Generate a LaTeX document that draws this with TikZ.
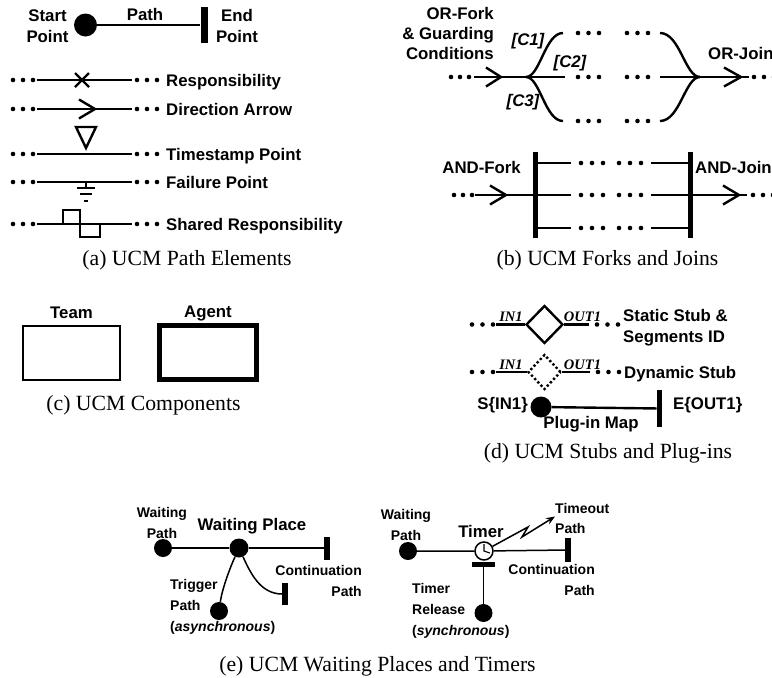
\documentclass[tikz,border=0pt]{standalone}
\usepackage{fontspec}
\setmainfont{Liberation Serif}
\setsansfont{Liberation Sans}
\usetikzlibrary{arrows.meta, positioning, shapes.geometric}
% three path dots from x on row y, spacing s
\newcommand{\tdots}[3]{%
  \foreach \k in {0,1,2}{\fill ({#1+\k*#3},#2) circle (2.3);}}
% open direction chevron, tip at (x,y), depth d
\newcommand{\chev}[3]{%
  \draw[pth] ({#1-#3},{#2-9.5}) -- (#1,#2) -- ({#1-#3},{#2+9.5});}

\begin{document}
\begin{tikzpicture}[x=1pt, y=-1pt, every node/.style={inner sep=0pt},
  lbl/.style={font=\sffamily\bfseries\fontsize{16.8}{21}\selectfont, align=center},
  slbl/.style={font=\sffamily\bfseries\fontsize{14}{21}\selectfont},
  cnd/.style={font=\sffamily\bfseries\itshape\fontsize{16.8}{21}\selectfont},
  capt/.style={font=\fontsize{21.7}{24}\selectfont, anchor=base},
  segid/.style={font=\bfseries\itshape\fontsize{14.5}{16}\selectfont, anchor=base},
  pth/.style={line width=2.4pt}, tpth/.style={line width=1.5pt},
  spt/.style={circle, fill, minimum size=18pt},
  bar/.style={fill, minimum width=5.5pt}]
\useasboundingbox (0,0) rectangle (772,678);
% (a) path elements
\node[spt, minimum size=23pt] (start) at (85.5,25) {};
\node[bar, minimum width=7pt, minimum height=36pt] (endbar) at (204,25) {};
\draw[pth] (start) -- (endbar);
\node[lbl] (startlbl) at (47.5,26) {Start\\Point};
\node[lbl] (pathlbl) at (145,14) {Path};
\node[lbl] (endlbl) at (237,26) {End\\Point};
\foreach \y/\t [count=\n] in {80/Responsibility, 109/Direction Arrow,
    154/Timestamp Point, 182/Failure Point, 224/Shared Responsibility}{
  \tdots{13}{\y}{10}
  \coordinate (pa\n) at (37,\y);
  \coordinate (pb\n) at (132,\y);
  \draw[pth] (pa\n) -- (pb\n);
  \tdots{137}{\y}{10}
  \node[lbl, anchor=base west] (pl\n) at (166,\y+6) {\t};
}
\draw[pth] (75,73) -- (89,87) (75,87) -- (89,73);
\chev{95}{109}{16}
\draw[pth] (76,127) -- (96,127) -- (86,148) -- cycle;
\draw[pth] (86,182) -- (86,188) (77,188) -- (95,188) (80,194) -- (92,194) (84,201) -- (88,201);
\draw[pth] (63,224) -- (63,210) -- (80,210) -- (80,237) -- (100,237) -- (100,224);
\node[capt] (capa) at (187,265.5) {(a) UCM Path Elements};
% (b) OR fork / join
\node[lbl, align=right, anchor=east, font=\sffamily\bfseries\fontsize{16.8}{20}\selectfont] (orlbl) at (494,33) {OR-Fork\\\& Guarding\\Conditions};
\tdots{451}{77}{9}
\coordinate (orin) at (474,77);
\coordinate (ork) at (526,77);
\draw[pth] (orin) -- (ork);
\chev{501}{77}{15}
\coordinate (or1) at (563,33);
\coordinate (or2) at (565,77);
\coordinate (or3) at (563,121);
\draw[pth] (ork) .. controls (540,77) and (545,33) .. (or1);
\draw[pth] (ork) -- (or2);
\draw[pth] (ork) .. controls (540,77) and (545,121) .. (or3);
\foreach \y in {33,77,121}{\tdots{578}{\y}{10.5} \tdots{627}{\y}{10.5}}
\coordinate (oj1) at (660,33);
\coordinate (oj2) at (660,77);
\coordinate (oj3) at (660,121);
\coordinate (orj) at (700,77);
\coordinate (orout) at (749,77);
\draw[pth] (oj1) .. controls (680,33) and (685,77) .. (orj);
\draw[pth] (oj2) -- (orj);
\draw[pth] (oj3) .. controls (680,121) and (685,77) .. (orj);
\draw[pth] (orj) -- (orout);
\chev{741}{77}{17}
\tdots{754}{77}{10}
\node[cnd] (c1) at (528,41) {[C1]};
\node[cnd] (c2) at (570,63) {[C2]};
\node[cnd] (c3) at (523,102) {[C3]};
\node[lbl, anchor=base west] (orjlbl) at (708,59) {OR-Join};
% (b) AND fork / join
\node[lbl, anchor=base east] (afklbl) at (521,173) {AND-Fork};
\node[bar, minimum height=86pt] (afk) at (535.5,195) {};
\node[bar, minimum height=86pt] (ajn) at (690.5,195) {};
\tdots{454}{195}{9}
\coordinate (ain) at (475,195);
\draw[pth] (ain) -- (afk);
\chev{506}{195}{16}
\foreach \y [count=\n] in {163,195,228}{
  \coordinate (ab\n) at (571,\y);
  \coordinate (ac\n) at (651,\y);
  \draw[pth] (afk.center |- ab\n) -- (ab\n);
  \tdots{581}{\y}{11}
  \tdots{619}{\y}{11}
  \draw[pth] (ac\n) -- (ajn.center |- ac\n);
}
\coordinate (aout) at (747,195);
\draw[pth] (ajn) -- (aout);
\chev{739}{195}{16}
\tdots{753}{195}{10}
\node[lbl, anchor=base west] (ajnlbl) at (695,173) {AND-Join};
\node[capt] (capb) at (607.5,265.5) {(b) UCM Forks and Joins};
% (c) components
\node[draw, line width=2pt, minimum width=97pt, minimum height=54pt] (team) at (71.5,353) {};
\node[draw, line width=5pt, minimum width=97pt, minimum height=54pt] (agent) at (208,352.5) {};
\node[lbl, above=6pt of team] (teamlbl) {Team};
\node[lbl, above=1.5pt of agent] (agentlbl) {Agent};
\node[capt] (capc) at (143.5,410) {(c) UCM Components};
% (d) stubs and plug-ins
\tdots{472}{324.5}{10.5}
\coordinate (si) at (496,324.5);
\node[diamond, draw, pth, minimum width=37pt, minimum height=38pt] (sstub) at (544.5,324.5) {};
\coordinate (so) at (589,324.5);
\draw[pth] (si) -- (sstub);
\draw[pth] (sstub) -- (so);
\tdots{597}{324.5}{10.5}
\node[segid] (sin) at (511,321) {IN1};
\node[segid] (sout) at (582.5,321) {OUT1};
\node[lbl, align=left, anchor=west] (slbl) at (623,328) {Static Stub \&\\Segments ID};
\tdots{472}{372}{10.5}
\coordinate (di) at (496,372);
\node[diamond, draw, pth, dash pattern=on 2.3pt off 2.3pt, minimum width=33pt, minimum height=35pt] (dstub) at (544.5,372) {};
\coordinate (do) at (590,372);
\draw[pth] (di) -- (dstub);
\draw[pth] (dstub) -- (do);
\tdots{598}{372}{10.5}
\node[segid] (din) at (511,369) {IN1};
\node[segid] (dout) at (582.5,369) {OUT1};
\node[lbl, anchor=base west] (dlbl) at (624,378.5) {Dynamic Stub};
\node[spt, minimum size=21pt] (pstart) at (541,407) {};
\node[bar, minimum height=37pt] (pend) at (659.5,408.5) {};
\draw[pth] (pstart) -- (pend);
\node[lbl, anchor=east] (pinlbl) at (528,405) {S\{IN1\}};
\node[lbl, anchor=west] (poutlbl) at (673,405) {E\{OUT1\}};
\node[lbl] (pmap) at (591,424) {Plug-in Map};
\node[capt] (capd) at (608,458) {(d) UCM Stubs and Plug-ins};
% (e) waiting place
\node[spt] (wpath) at (163,548) {};
\node[spt, minimum size=19pt] (wplace) at (239,548) {};
\node[bar, minimum height=23pt] (wend) at (327,548) {};
\draw[tpth] (wpath) -- (wplace) -- (wend);
\node[spt] (trig) at (219,611) {};
\node[bar, minimum height=22pt] (cend) at (285,594) {};
\draw[tpth] (wplace) .. controls (229,570) and (222,590) .. (trig);
\draw[tpth] (wplace) .. controls (250,572) and (260,594) .. (cend);
\node[slbl, align=center] (wpathlbl) at (162,523) {Waiting\\Path};
\node[lbl] (wplacelbl) at (252,526) {Waiting Place};
\node[slbl, align=left, anchor=west] (triglbl) at (170,607) {Trigger\\Path\\(\textit{asynchronous})};
\node[slbl, align=right, anchor=east] (cendlbl) at (362,581) {Continuation\\Path};
% (e) timer
\node[spt] (tpath) at (408,551) {};
\node[circle, draw, tpth, fill=white, minimum size=18pt] (timer) at (484,551) {};
\node[bar, minimum height=24pt] (tend) at (568,550) {};
\draw[tpth] (tpath) -- (timer) -- (tend);
\draw[line width=1.1pt] (484,544) -- (timer.center) -- (490,553);
\node[bar, minimum width=23pt, minimum height=5pt] (trel) at (483.5,564) {};
\node[spt] (rel) at (483.5,613) {};
\draw[tpth] (trel) -- (rel);
\coordinate (tz1) at (528,527);
\coordinate (tz2) at (522,537);
\coordinate (tout) at (555,516.5);
\draw[tpth, -{Stealth[length=9pt, width=7pt]}] (timer) -- (tz1) -- (tz2) -- (tout);
\node[lbl] (timerlbl) at (481,531) {Timer};
\node[slbl, align=center] (tpathlbl) at (406,524.5) {Waiting\\Path};
\node[slbl, align=left, anchor=west, font=\sffamily\bfseries\fontsize{14}{20}\selectfont] (toutlbl) at (555,518) {Timeout\\Path};
\node[slbl, align=right, anchor=east] (tendlbl) at (595,580) {Continuation\\Path};
\node[slbl, align=left, anchor=west] (rellbl) at (412,611) {Timer\\Release\\(\textit{synchronous})};
\node[capt] (cape) at (377.5,671) {(e) UCM Waiting Places and Timers};
\end{tikzpicture}
\end{document}
